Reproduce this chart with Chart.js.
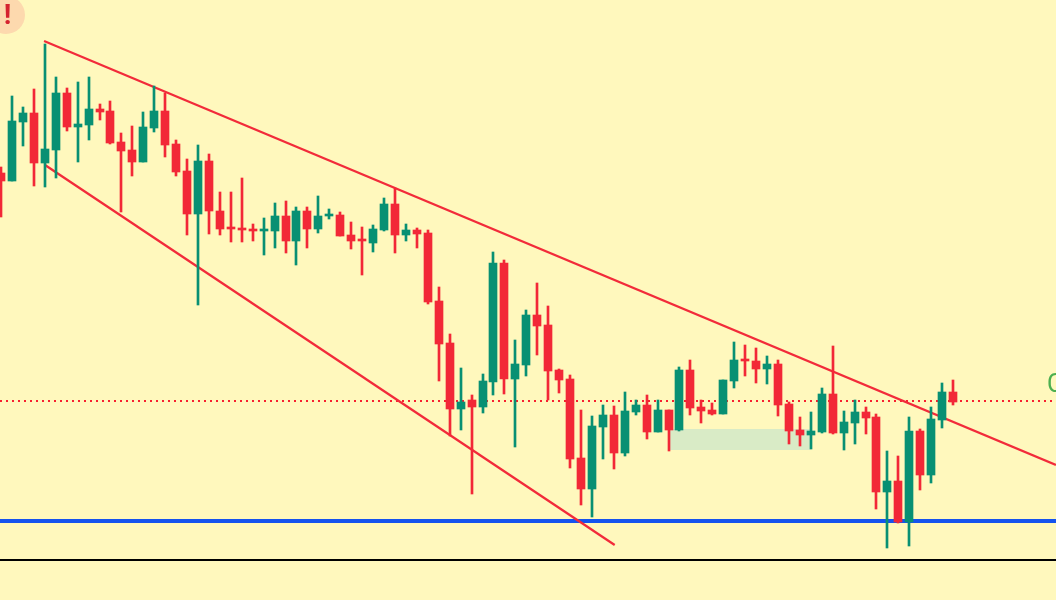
<!DOCTYPE html>
<html>
<head>
<meta charset="utf-8">
<title>Falling wedge</title>
<script src="https://cdn.jsdelivr.net/npm/chart.js@4"></script>
<style>
    html, body { margin: 0; padding: 0; background: #fff8bd; overflow: hidden; }
    #wrap { position: relative; width: 1056px; height: 600px; overflow: hidden; }
    canvas { display: block; }
    #alertBadge {
        position: absolute; left: -13px; top: -4px; width: 38px; height: 38px;
        border-radius: 50%; background: #fdd9ae; color: #d5222f;
        font: 700 28px/38px Roboto, sans-serif; text-align: center;
        text-indent: 3px;
    }
    #priceLabel {
        position: absolute; left: 1047px; top: 369px; color: #4caf50;
        font: 400 25px/30px Roboto, sans-serif;
    }
</style>
</head>
<body>
<div id="wrap">
    <canvas id="wedgeChart" width="1056" height="600"></canvas>
    <div id="alertBadge">!</div>
    <div id="priceLabel">C</div>
</div>
<script>
// --- DATA (sessions left to right) ---
const opens = [427, 419, 478, 487, 437, 450, 507, 473, 475, 491, 489, 458, 450, 438, 472, 489, 456, 429, 386, 439, 389, 373, 372, 371, 369, 369, 384, 359, 389, 371, 384, 385, 365, 361, 357, 370, 396, 365, 370, 367, 299, 257, 191, 200, 193, 218, 337, 221, 235, 285, 275, 230, 221, 142, 111, 173, 185, 147, 188, 195, 168, 190, 170, 230, 193, 190, 186, 219, 241, 239, 231, 236, 196, 170, 165, 168, 206, 167, 177, 188, 183, 108, 119, 78, 169, 125, 180, 208];
const highs = [433, 504, 493, 511, 556, 523, 512, 518, 523, 496, 499, 467, 474, 488, 514, 507, 460, 441, 455, 446, 408, 408, 422, 376, 382, 397, 399, 393, 393, 404, 391, 388, 378, 373, 375, 402, 412, 376, 372, 370, 313, 266, 232, 205, 226, 348, 340, 260, 290, 317, 294, 231, 225, 190, 184, 195, 194, 208, 200, 205, 200, 190, 233, 240, 200, 197, 220, 258, 255, 252, 244, 240, 198, 183, 188, 212, 254, 189, 200, 193, 186, 149, 144, 183, 171, 193, 217, 220];
const lows = [383, 419, 454, 414, 413, 422, 469, 438, 460, 480, 456, 388, 424, 438, 468, 443, 424, 365, 295, 366, 365, 358, 358, 359, 345, 352, 347, 335, 352, 367, 381, 364, 351, 325, 348, 369, 347, 359, 352, 296, 219, 164, 170, 106, 187, 205, 206, 153, 224, 245, 200, 207, 132, 95, 83, 141, 131, 144, 185, 161, 168, 149, 169, 185, 177, 185, 186, 212, 224, 217, 216, 184, 156, 154, 151, 167, 166, 150, 156, 166, 91, 52, 77, 54, 110, 117, 172, 195];
const closes = [419, 479, 487, 437, 451, 507, 473, 476, 491, 488, 457, 449, 438, 473, 489, 455, 428, 386, 439, 389, 371, 371, 370, 369, 371, 384, 359, 389, 371, 384, 386, 364, 359, 359, 371, 396, 365, 370, 366, 298, 256, 191, 198, 193, 219, 337, 221, 236, 285, 274, 229, 220, 141, 111, 174, 185, 147, 189, 195, 168, 190, 170, 230, 192, 189, 186, 220, 240, 239, 231, 236, 195, 169, 165, 169, 206, 167, 178, 188, 182, 108, 119, 78, 169, 125, 181, 208, 198];

// Levels, trend lines and the demand zone, in the same price units
const upperTrend = [[3.93, 559], [96.4, 135]];
const lowerTrend = [[4.02, 435], [56.08, 55]];
const entryLevel = 199;
const supportLevel = 79;
const floorLevel = 40;
const zoneSessions = [61, 74];
const zonePrices = [150, 171];

const UP = '#089073';
const DOWN = '#f22837';
const TREND = '#f22b3a';
const STEP = 10.943;
const FIRST_X = 1.03;

const colors = opens.map((o, i) => closes[i] >= o ? UP : DOWN);
const sessions = opens.map((_, i) => i);
const toPoints = pairs => pairs.map(([x, y]) => ({ x, y }));
const flatLine = y => [{ x: -FIRST_X / STEP, y }, { x: (1056 - FIRST_X) / STEP, y }];

// Keep candles on whole pixels so bodies and wicks stay sharp
const snapBars = {
    id: 'snapBars',
    beforeDatasetsDraw(chart) {
        chart.data.datasets.forEach((ds, i) => {
            if (ds.type !== 'bar') return;
            chart.getDatasetMeta(i).data.forEach(el => { el.x = Math.round(el.x); });
        });
    }
};

new Chart(document.getElementById('wedgeChart').getContext('2d'), {
    data: {
        datasets: [
            {
                type: 'line', order: 6,
                data: zoneSessions.map(x => ({ x, y: zonePrices[1] })),
                borderWidth: 0, pointRadius: 0,
                backgroundColor: '#d9ebc6',
                fill: { target: { value: zonePrices[0] } }
            },
            {
                type: 'line', order: 5, data: flatLine(floorLevel),
                borderColor: '#000000', borderWidth: 2, pointRadius: 0
            },
            {
                type: 'line', order: 5, data: flatLine(supportLevel),
                borderColor: '#1553ee', borderWidth: 4, pointRadius: 0
            },
            {
                type: 'line', order: 4, data: flatLine(entryLevel),
                borderColor: '#f7202f', borderWidth: 2, borderDash: [2, 4], pointRadius: 0
            },
            {
                type: 'line', order: 3, data: toPoints(upperTrend),
                borderColor: TREND, borderWidth: 2.25, pointRadius: 0
            },
            {
                type: 'line', order: 3, data: toPoints(lowerTrend),
                borderColor: TREND, borderWidth: 2.25, pointRadius: 0
            },
            {
                type: 'bar', order: 2, barThickness: 2, grouped: false,
                data: sessions.map(i => ({ x: i, y: [lows[i], highs[i]] })),
                backgroundColor: colors
            },
            {
                type: 'bar', order: 1, barThickness: 8, grouped: false,
                data: sessions.map(i => ({ x: i, y: [opens[i], closes[i]] })),
                backgroundColor: colors
            }
        ]
    },
    options: {
        responsive: false,
        animation: false,
        layout: { padding: 0 },
        plugins: { legend: { display: false }, tooltip: { enabled: false } },
        scales: {
            x: { type: 'linear', display: false, offset: false, min: -FIRST_X / STEP, max: (1056 - FIRST_X) / STEP },
            y: { type: 'linear', display: false, min: 0, max: 600 }
        }
    },
    plugins: [snapBars]
});
</script>
</body>
</html>
